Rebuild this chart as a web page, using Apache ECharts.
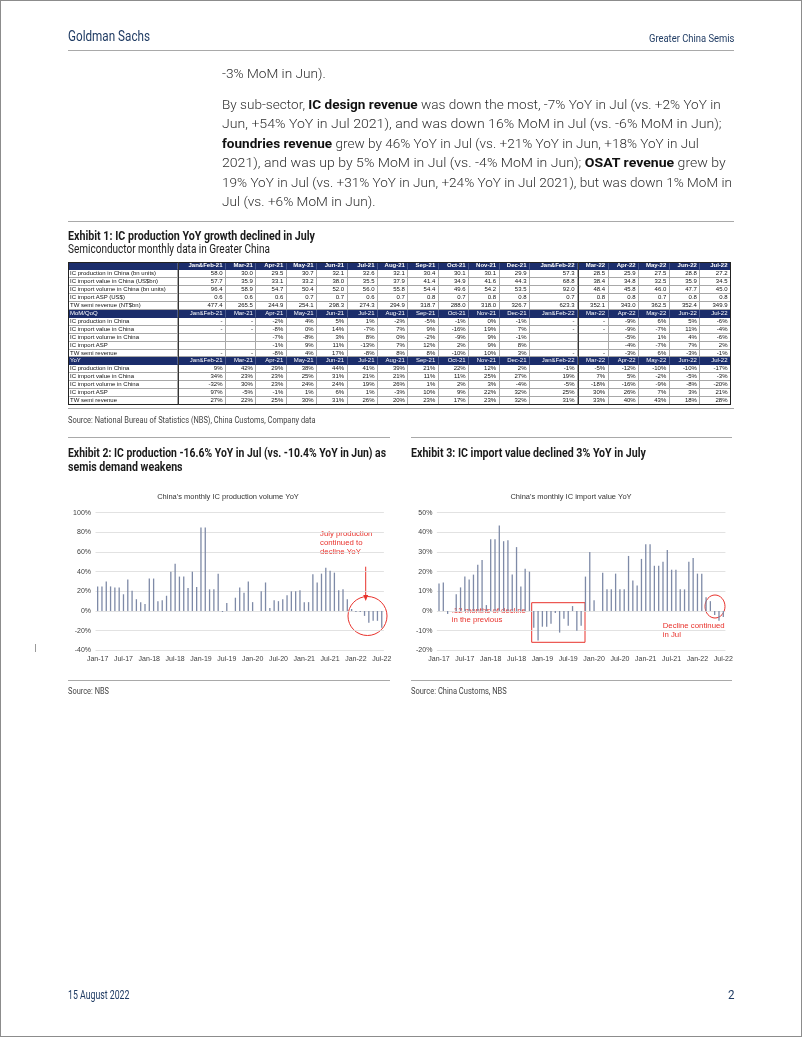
<!DOCTYPE html>
<html><head><meta charset="utf-8">
<script src="https://cdn.jsdelivr.net/npm/echarts@6/dist/echarts.min.js"></script>
<style>
html,body{margin:0;padding:0;background:#fff;}
#page{position:relative;width:802px;height:1037px;overflow:hidden;background:#fff;}
.t{position:absolute;white-space:nowrap;transform-origin:0 50%;font-family:Roboto,"Liberation Sans",sans-serif;}
.t b{font-weight:700;color:#111;}
.rule{position:absolute;height:0;border-top:1.5px solid #a9a9a9;}
.cell{position:absolute;box-sizing:border-box;border-right:1px solid #a8a8a8;border-bottom:1px solid #a8a8a8;font-family:"Liberation Sans",Arial,sans-serif;font-size:6px;text-align:right;padding-right:2.5px;white-space:nowrap;overflow:hidden;color:#111;}
.cell.lab{text-align:left;padding-left:2px;padding-right:0;}
.cell.hd{background:#1b2d6b;color:#fff;border-right-color:#4a5a8e;border-bottom-color:#1b2d6b;}
#chart{position:absolute;left:0;top:480px;width:802px;height:200px;}
</style></head>
<body><div id="page"><div id="chart"></div></div>
<script>
// ---------------- DATA ----------------
const monthNames = ['Jan','Feb','Mar','Apr','May','Jun','Jul','Aug','Sep','Oct','Nov','Dec'];
const years = ['17','18','19','20','21','22'];
const months = [];
years.forEach(y => monthNames.forEach(m => { if (months.length < 67) months.push(m + '-' + y); }));

// Exhibit 2: China monthly IC production volume YoY (%)
const prodYoY = [25,25,30,25,24,24,17,32,20.5,12,9,7,
  33,33,10,11,15.5,40,48,35,35,23.5,40,24.5,
  85,85,22,22,38,-1,8,null,13.5,24,18.5,30,
  9,null,20,29,3,11,10,12,16,20,20,21,
  9,9,37.5,29,38,44,41,39,21,22,12,2,
  -1,-1,-5,-12,-10,-10,-17];
// Exhibit 3: China monthly IC import value YoY (%)
const importYoY = [14,14.5,-1.5,null,8.5,12,17.5,16,18.5,23.5,26,3,
  36.5,36.5,43.5,35.5,36,18.5,32.5,12.5,21.5,20,-8.5,-15,
  -8,-8,-6.5,-1,-11,-4,-7.5,2.5,-10,-7.5,17.5,30,
  5.5,null,19.5,11,11,19,11,11,28,15.5,13,26.5,
  34,34,23,23,25,31,21,21,11,11,25,27,
  19,19,7,5,-2,-5,-3];

// Exhibit 1 table
const tableCols = ['Jan&Feb-21','Mar-21','Apr-21','May-21','Jun-21','Jul-21','Aug-21','Sep-21','Oct-21','Nov-21','Dec-21','Jan&Feb-22','Mar-22','Apr-22','May-22','Jun-22','Jul-22'];
const lvProd   = ['58.0','30.0','29.5','30.7','32.1','32.6','32.1','30.4','30.1','30.1','29.9','57.3','28.5','25.9','27.5','28.8','27.2'];
const lvImpVal = ['57.7','35.9','33.1','33.2','38.0','35.5','37.9','41.4','34.9','41.6','44.3','68.8','38.4','34.8','32.5','35.9','34.5'];
const lvImpVol = ['96.4','58.9','54.7','50.4','52.0','56.0','55.8','54.4','49.6','54.2','53.5','92.0','48.4','45.8','46.0','47.7','45.0'];
const lvAsp    = ['0.6','0.6','0.6','0.7','0.7','0.6','0.7','0.8','0.7','0.8','0.8','0.7','0.8','0.8','0.7','0.8','0.8'];
const lvTw     = ['477.4','265.5','244.9','254.1','298.3','274.3','294.9','318.7','288.0','318.0','326.7','623.3','352.1','343.0','362.5','352.4','349.9'];
const momProd   = ['-','-','-2%','4%','5%','1%','-2%','-5%','-1%','0%','-1%','-','-','-9%','6%','5%','-6%'];
const momImpVal = ['-','-','-8%','0%','14%','-7%','7%','9%','-16%','19%','7%','-','-','-9%','-7%','11%','-4%'];
const momImpVol = ['','','-7%','-8%','3%','8%','0%','-2%','-9%','9%','-1%','','','-5%','1%','4%','-6%'];
const momAsp    = ['','','-1%','9%','11%','-13%','7%','12%','2%','9%','8%','','','-4%','-7%','7%','2%'];
const momTw     = ['-','-','-8%','4%','17%','-8%','8%','8%','-10%','10%','3%','-','-','-3%','6%','-3%','-1%'];
const yoyProd   = ['9%','42%','29%','38%','44%','41%','39%','21%','22%','12%','2%','-1%','-5%','-12%','-10%','-10%','-17%'];
const yoyImpVal = ['34%','23%','23%','25%','31%','21%','21%','11%','11%','25%','27%','19%','7%','5%','-2%','-5%','-3%'];
const yoyImpVol = ['-32%','30%','23%','24%','24%','19%','26%','1%','2%','3%','-4%','-5%','-18%','-16%','-9%','-8%','-20%'];
const yoyAsp    = ['97%','-5%','-1%','1%','6%','1%','-3%','10%','9%','22%','32%','25%','30%','26%','7%','3%','21%'];
const yoyTw     = ['27%','22%','25%','30%','31%','26%','20%','23%','17%','23%','32%','31%','33%','40%','43%','18%','28%'];

// ---------------- PAGE TEXT ----------------
const page = document.getElementById('page');
const fits = [];
function T(html, x, yc, fs, o) {
  o = o || {};
  const d = document.createElement('div');
  d.className = 't';
  d.innerHTML = html;
  const lh = fs * 1.2;
  d.style.fontSize = fs + 'px';
  d.style.lineHeight = lh + 'px';
  d.style.top = (yc - lh / 2) + 'px';
  d.style.fontWeight = o.weight || 400;
  d.style.color = o.color || '#1a1a1a';
  if (o.align === 'right') { d.style.left = (x - (o.w || 0)) + 'px'; d.dataset.right = x; }
  else d.style.left = x + 'px';
  page.appendChild(d);
  fits.push([d, o.w, o.align]);
}
function R(x1, x2, y) {
  const d = document.createElement('div');
  d.className = 'rule';
  d.style.left = x1 + 'px'; d.style.width = (x2 - x1) + 'px'; d.style.top = (y - 0.75) + 'px';
  page.appendChild(d);
}
function box(x, y, w, h, css) {
  const d = document.createElement('div');
  d.style.position = 'absolute';
  d.style.left = x + 'px'; d.style.top = y + 'px'; d.style.width = w + 'px'; d.style.height = h + 'px';
  d.style.cssText += css;
  page.appendChild(d);
  return d;
}
// page frame
box(0, 0, 802, 1037, 'box-sizing:border-box;border:1px solid #8c8c8c;');
box(35, 644, 1, 8, 'background:#9a9a9a;');

const navy = '#1f3b63';
T('Goldman Sachs', 68, 36, 15, {w: 82, color: navy});
T('Greater China Semis', 734, 38.5, 11, {w: 85.4, align: 'right', color: navy});
R(68, 734, 51);

const bodyC = '#2e2e2e';
T('-3% MoM in Jun).', 221.5, 72.7, 13.5, {w: 103.8, weight: 300, color: bodyC});
T('By sub-sector, <b>IC design revenue</b> was down the most, -7% YoY in Jul (vs. +2% YoY in', 221.5, 104, 13.5, {w: 498.7, weight: 300, color: bodyC});
T('Jun, +54% YoY in Jul 2021), and was down 16% MoM in Jul (vs. -6% MoM in Jun);', 221.5, 123.5, 13.5, {w: 499.5, weight: 300, color: bodyC});
T('<b>foundries revenue</b> grew by 46% YoY in Jul (vs. +21% YoY in Jun, +18% YoY in Jul', 221.5, 143, 13.5, {w: 476.7, weight: 300, color: bodyC});
T('2021), and was up by 5% MoM in Jul (vs. -4% MoM in Jun); <b>OSAT revenue</b> grew by', 221.5, 162.5, 13.5, {w: 503.8, weight: 300, color: bodyC});
T('19% YoY in Jul (vs. +31% YoY in Jun, +24% YoY in Jul 2021), but was down 1% MoM in', 221.5, 182, 13.5, {w: 510, weight: 300, color: bodyC});
T('Jul (vs. +6% MoM in Jun).', 221.5, 201.5, 13.5, {w: 153.4, weight: 300, color: bodyC});
R(68, 734, 222);

T('Exhibit 1: IC production YoY growth declined in July', 68, 235, 12.5, {w: 247, weight: 700});
T('Semiconductor monthly data in Greater China', 68, 249, 12, {w: 202});

// ---------------- TABLE ----------------
(function buildTable() {
  const x0 = 68, y0 = 262.3, rowH = 7.93, labW = 110;
  const colW = [];
  tableCols.forEach((c, i) => colW.push(c.indexOf('&') >= 0 ? 48 : (i < 11 ? 30.4 : 30.6)));
  const rows = [
    {hd: true, bold: true, label: ''},
    {label: 'IC production in China (bn units)', v: lvProd},
    {label: 'IC import value in China (US$bn)', v: lvImpVal},
    {label: 'IC import volume in China (bn units)', v: lvImpVol},
    {label: 'IC import ASP (US$)', v: lvAsp},
    {label: 'TW semi revenue (NT$bn)', v: lvTw},
    {hd: true, label: 'MoM/QoQ'},
    {label: 'IC production in China', v: momProd},
    {label: 'IC import value in China', v: momImpVal},
    {label: 'IC import volume in China', v: momImpVol},
    {label: 'IC import ASP', v: momAsp},
    {label: 'TW semi revenue', v: momTw},
    {hd: true, label: 'YoY'},
    {label: 'IC production in China', v: yoyProd},
    {label: 'IC import value in China', v: yoyImpVal},
    {label: 'IC import volume in China', v: yoyImpVol},
    {label: 'IC import ASP', v: yoyAsp},
    {label: 'TW semi revenue', v: yoyTw}
  ];
  rows.forEach((r, ri) => {
    const y = y0 + ri * rowH;
    let x = x0;
    const mk = (txt, w, extra) => {
      const d = document.createElement('div');
      d.className = 'cell' + extra;
      d.style.left = x + 'px'; d.style.top = y + 'px';
      d.style.width = w + 'px'; d.style.height = rowH + 'px';
      d.style.lineHeight = (rowH - 1) + 'px';
      d.textContent = txt;
      if (r.bold) d.style.fontWeight = '700';
      page.appendChild(d);
      x += w;
    };
    mk(r.label, labW, ' lab' + (r.hd ? ' hd' : ''));
    tableCols.forEach((c, ci) => mk(r.hd ? c : r.v[ci], colW[ci], r.hd ? ' hd' : ''));
  });
  const totW = labW + colW.reduce((a, b) => a + b, 0);
  const totH = rows.length * rowH;
  box(x0, y0, totW, totH, 'box-sizing:border-box;border:1px solid #222;');
  // dark vertical separators
  box(x0 + labW - 0.5, y0, 1, totH, 'background:#333;');
  const xMar22 = x0 + labW + colW.slice(0, 12).reduce((a, b) => a + b, 0);
  box(xMar22 - 0.5, y0, 1, totH, 'background:#333;');
})();

R(68, 734, 409);
T('Source: National Bureau of Statistics (NBS), China Customs, Company data', 68, 420, 9, {w: 247.6, color: '#444'});
R(68, 390, 437.3);
R(410.7, 732.5, 437.3);
T('Exhibit 2: IC production -16.6% YoY in Jul (vs. -10.4% YoY in Jun) as', 68, 452.3, 12.5, {w: 318, weight: 700});
T('semis demand weakens', 68, 466.7, 12.5, {w: 114.6, weight: 700});
T('Exhibit 3: IC import value declined 3% YoY in July', 410.7, 452.3, 12.5, {w: 234.8, weight: 700});
R(68, 390, 680.7);
R(410.7, 732.5, 680.7);
T('Source: NBS', 68, 691, 9, {w: 41, color: '#444'});
T('Source: China Customs, NBS', 410.7, 691, 9, {w: 95.7, color: '#444'});
T('15 August 2022', 68, 995, 12, {w: 61.4, color: navy});
T('2', 734, 995, 12, {w: 6.5, align: 'right', color: navy});

fits.forEach(([d, w, align]) => {
  if (!w) return;
  const nat = d.getBoundingClientRect().width;
  if (nat > 0) d.style.transform = 'scaleX(' + (w / nat) + ')';
});

// ---------------- CHARTS ----------------
const chart = echarts.init(document.getElementById('chart'), null, {width: 802, height: 200});
const lblFont = 'Liberation Sans, Arial, sans-serif';
const red = '#e8322c';
const xAx = (gi) => ({
  type: 'category', gridIndex: gi, data: months,
  axisLine: {show: false}, axisTick: {show: false},
  axisLabel: {interval: 5, margin: 5, fontSize: 7, color: '#404040', fontFamily: lblFont}
});
const yAx = (gi, min, max, step) => ({
  type: 'value', gridIndex: gi, min: min, max: max, interval: step,
  axisLine: {show: false}, axisTick: {show: false},
  axisLabel: {formatter: '{value}%', margin: 4.5, fontSize: 7, color: '#404040', fontFamily: lblFont},
  splitLine: {lineStyle: {color: '#dadada', width: 0.8}}
});
const txt = (s, x, y, o) => Object.assign({type: 'text', x: x, y: y, silent: true,
  style: {text: s, fill: red, font: '7.8px ' + lblFont, textVerticalAlign: 'middle'}}, o || {});
chart.setOption({
  animation: false,
  grid: [
    {left: 95.5, top: 32.7, width: 288.4, height: 137.6},
    {left: 436.85, top: 32.7, width: 288.6, height: 137.6}
  ],
  xAxis: [xAx(0), xAx(1)],
  yAxis: [yAx(0, -40, 100, 20), yAx(1, -20, 50, 10)],
  series: [
    {type: 'bar', xAxisIndex: 0, yAxisIndex: 0, data: prodYoY, barWidth: 1.3, itemStyle: {color: '#7e8aa7'}},
    {type: 'bar', xAxisIndex: 1, yAxisIndex: 1, data: importYoY, barWidth: 1.3, itemStyle: {color: '#7e8aa7'}}
  ],
  graphic: [
    {type: 'text', x: 228, y: 17, style: {text: "China's monthly IC production volume YoY", fill: '#333', font: '7.5px ' + lblFont, textAlign: 'center', textVerticalAlign: 'middle'}},
    {type: 'text', x: 571, y: 17, style: {text: "China's monthly IC import value YoY", fill: '#333', font: '7.5px ' + lblFont, textAlign: 'center', textVerticalAlign: 'middle'}},
    txt('July production', 320, 54),
    txt('continued to', 320, 63),
    txt('decline YoY', 320, 72),
    {type: 'line', shape: {x1: 365.7, y1: 86.7, x2: 365.7, y2: 116}, style: {stroke: red, lineWidth: 1}},
    {type: 'polygon', shape: {points: [[363.2, 115], [368.2, 115], [365.7, 121]]}, style: {fill: red}},
    {type: 'circle', shape: {cx: 367.5, cy: 136, r: 19.5}, style: {stroke: red, fill: 'none', lineWidth: 1}},
    {type: 'rect', shape: {x: 531.7, y: 122.7, width: 53.3, height: 39.6}, style: {stroke: red, fill: 'none', lineWidth: 1}},
    txt('.12 months of decline', 451.7, 131),
    txt('in the previous', 451.7, 140),
    {type: 'ellipse', shape: {cx: 715, cy: 126.5, rx: 10, ry: 11.5}, style: {stroke: red, fill: 'none', lineWidth: 1}},
    txt('Decline continued', 662.7, 145.7),
    txt('in Jul', 662.7, 155)
  ]
});
</script>
</body></html>
